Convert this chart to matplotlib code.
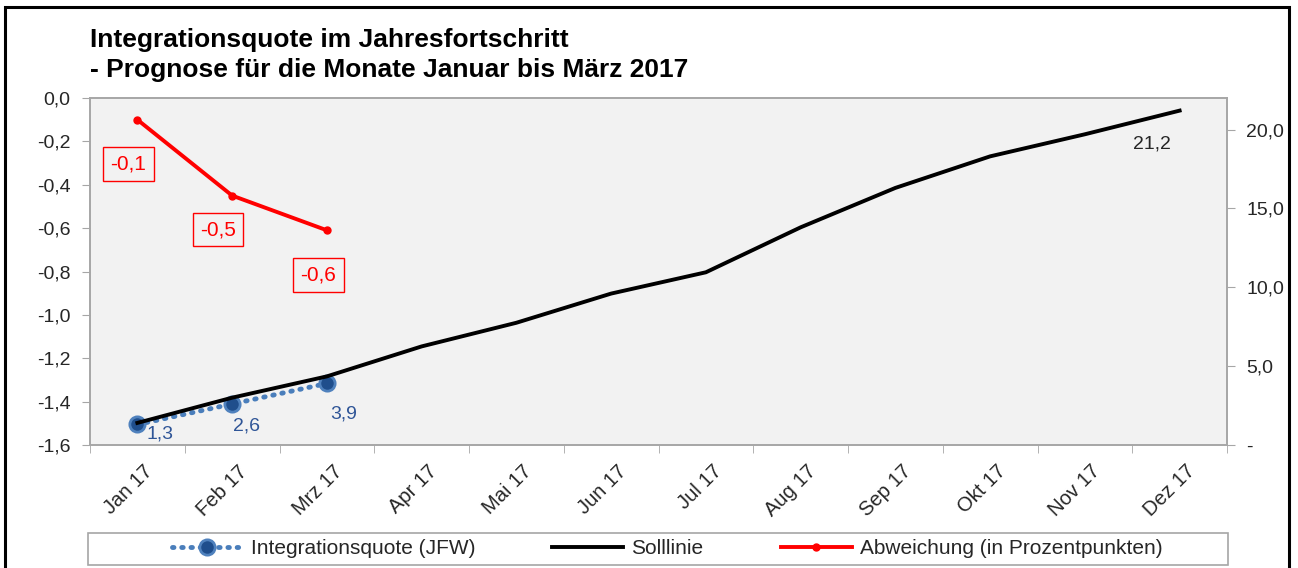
import numpy as np
import matplotlib.pyplot as plt
from matplotlib.lines import Line2D
from matplotlib.patches import Rectangle
from matplotlib.ticker import FuncFormatter, FixedLocator
import matplotlib.transforms as mtransforms

plt.rcParams['font.family'] = ['Liberation Sans', 'DejaVu Sans']

months = ['Jan 17', 'Feb 17', 'Mrz 17', 'Apr 17', 'Mai 17', 'Jun 17',
          'Jul 17', 'Aug 17', 'Sep 17', 'Okt 17', 'Nov 17', 'Dez 17']
soll = [1.4, 3.0, 4.35, 6.25, 7.75, 9.6, 10.95, 13.8, 16.3, 18.3, 19.7, 21.2]
quote = [1.3, 2.6, 3.9]
abweichung = [-0.1, -0.45, -0.61]
abw_labels = ['-0,1', '-0,5', '-0,6']
quote_labels = ['1,3', '2,6', '3,9']

x = np.arange(len(months))
txt = '#262626'
blue = '#2f5597'
grey = '#a6a6a6'

fig = plt.figure(figsize=(12.98, 5.68), dpi=100)
ax = fig.add_axes([90/1298, 1-445/568, (1227-90)/1298, (445-98)/568])
ax2 = ax.twinx()

ax.set_facecolor('#f2f2f2')
for a in (ax, ax2):
    for s in a.spines.values():
        s.set_color(grey)
        s.set_linewidth(1.2)

# left axis: Abweichung
ax.plot(x[:3], abweichung, color='red', lw=2.8, marker='o', ms=5, zorder=3)
ax.set_ylim(-1.6, 0)
ax.set_yticks(np.arange(-1.6, 0.01, 0.2))
ax.yaxis.set_major_formatter(FuncFormatter(lambda v, p: f'{v:.1f}'.replace('.', ',').replace('-0,0', '0,0')))
a_off = [(-6.5, -32), (-10, -24.5), (-6, -32)]
for i, lab in enumerate(abw_labels):
    ax.annotate(lab, (x[i], abweichung[i]), xytext=a_off[i], textcoords='offset points',
                ha='center', va='center', color='red', fontsize=15,
                bbox=dict(boxstyle='square,pad=0.35', fc='#f2f2f2', ec='red', lw=1))

# right axis: Solllinie + Integrationsquote
ax2.plot(x[:3], quote, color='#4a7ebb', lw=3.5, ls=(0, (0.3, 1.6)), dash_capstyle='round',
         marker='o', ms=11, mfc='#1f4e8c', mec='#4f81bd', mew=2, zorder=2)
ax2.plot(x, soll, color='black', lw=2.8, zorder=3)
ax2.set_ylim(0, 22)
ax2.set_yticks([0, 5, 10, 15, 20])
ax2.yaxis.set_major_formatter(FuncFormatter(lambda v, p: '-' if v == 0 else f'{v:.1f}'.replace('.', ',')))

q_off = [(16, -7), (10, -16), (12, -22)]
for i, lab in enumerate(quote_labels):
    ax2.annotate(lab, (x[i], quote[i]), xytext=q_off[i], textcoords='offset points',
                 ha='center', va='center', color=blue, fontsize=14)
ax2.annotate('21,2', (x[-1], soll[-1]), xytext=(-20, -24), textcoords='offset points',
             ha='center', va='center', color=txt, fontsize=14)

# x axis
ax.set_xlim(-0.5, 11.5)
ax.set_xticks(x)
ax.set_xticklabels(months, rotation=45, ha='right', rotation_mode='anchor')
ax.xaxis.set_minor_locator(FixedLocator(np.arange(-0.5, 12, 1)))
ax.tick_params(axis='x', which='major', length=0, pad=12)
ax.tick_params(axis='x', which='minor', length=6, color=grey)
offset = mtransforms.ScaledTranslation(6/100, 0, fig.dpi_scale_trans)
for lab in ax.get_xticklabels():
    lab.set_transform(lab.get_transform() + offset)

for a in (ax, ax2):
    a.tick_params(axis='y', length=6, color=grey, labelsize=14, labelcolor=txt, pad=8)
ax.tick_params(axis='x', labelsize=14.5, labelcolor=txt)

# title
fig.text(90/1298, 1-28/568, 'Integrationsquote im Jahresfortschritt\n- Prognose für die Monate Januar bis März 2017',
         ha='left', va='top', fontsize=19, fontweight='bold', color='black', linespacing=1.3)

# legend
handles = [
    Line2D([], [], color='#4a7ebb', lw=3.5, ls=(0, (0.3, 1.6)), dash_capstyle='round',
           marker='o', ms=11, mfc='#1f4e8c', mec='#4f81bd', mew=2),
    Line2D([], [], color='black', lw=2.8),
    Line2D([], [], color='red', lw=2.8, marker='o', ms=5),
]
leg = fig.legend(handles, ['Integrationsquote (JFW)', 'Solllinie', 'Abweichung (in Prozentpunkten)'],
                 loc='center', bbox_to_anchor=(667/1298, 1-549/568), ncol=3, fontsize=15,
                 frameon=False, handlelength=3.4, handletextpad=0.4, columnspacing=3.7)
for t in leg.get_texts():
    t.set_color(txt)
fig.patches.append(Rectangle((88/1298, 1-565/568), (1228-88)/1298, 32/568, transform=fig.transFigure,
                             fill=False, ec=grey, lw=1.2))

# outer chart border
fig.patches.append(Rectangle((5/1298, -0.05), (1289-5)/1298, 1.05-7/568, transform=fig.transFigure,
                             fill=False, ec='black', lw=2.2))

fig.savefig('out.png', dpi=100)
